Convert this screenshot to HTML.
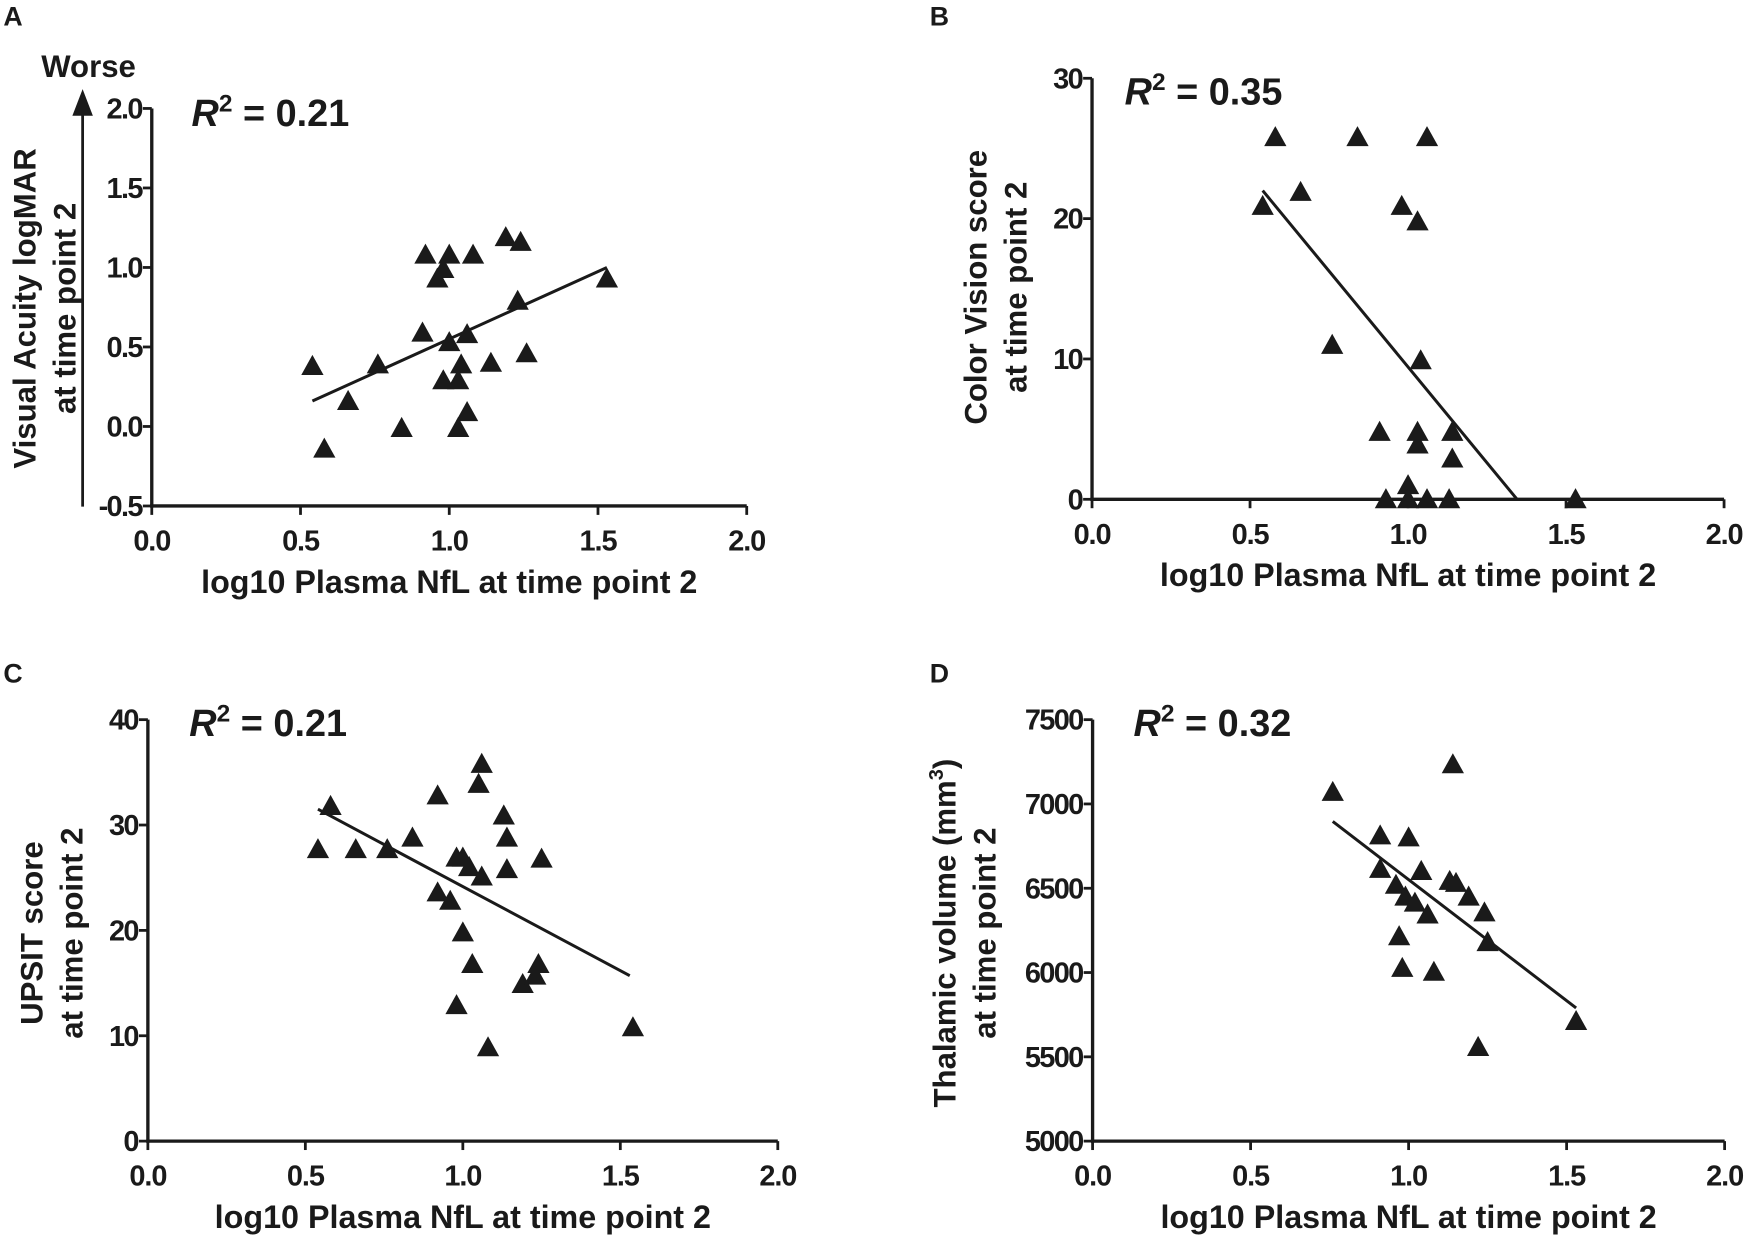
<!DOCTYPE html>
<html><head><meta charset="utf-8"><style>
html,body{margin:0;padding:0;background:#fff;}
svg{display:block;}
text{font-family:"Liberation Sans",Arial,sans-serif;font-weight:bold;fill:#1a1a1a;}
</style></head><body>
<svg id="fig" width="1746" height="1240" viewBox="0 0 1568 1113.6" preserveAspectRatio="none" xmlns="http://www.w3.org/2000/svg"></svg>
<script>
// Panel A data
const aX=[0.54,0.58,0.66,0.76,0.84,0.91,0.92,0.96,0.98,1.0,0.98,1.0,1.03,1.04,1.03,1.06,1.06,1.08,1.14,1.19,1.24,1.23,1.26,1.53];
const aY=[0.38,-0.14,0.16,0.39,-0.01,0.59,1.08,0.93,0.99,1.08,0.29,0.53,0.29,0.39,-0.01,0.09,0.58,1.08,0.40,1.19,1.16,0.79,0.46,0.93];
const aFit=[[0.54,0.16],[1.53,1.0]];
const aYTicks=[-0.5,0,0.5,1.0,1.5,2.0];
const aYLabels=["-0.5","0.0","0.5","1.0","1.5","2.0"];
// Panel B data
const bX=[0.54,0.58,0.66,0.76,0.84,0.91,0.93,0.98,1.0,1.0,1.03,1.04,1.03,1.03,1.06,1.06,1.14,1.14,1.13,1.53];
const bY=[20.9,25.8,21.9,11.0,25.8,4.8,0,20.9,1,0,19.8,9.9,4.8,3.9,0,25.8,4.8,2.9,0,0];
const bFit=[[0.54,22.0],[1.345,0]];
const bYTicks=[0,10,20,30];
const bYLabels=["0","10","20","30"];
// Panel C data
const cX=[0.54,0.58,0.66,0.76,0.84,0.92,0.92,0.96,0.98,1.0,1.0,0.98,1.03,1.02,1.05,1.06,1.06,1.08,1.13,1.14,1.14,1.19,1.23,1.24,1.25,1.54];
const cY=[27.7,31.8,27.7,27.7,28.8,32.8,23.6,22.8,26.9,26.9,19.8,12.9,16.8,26.0,33.9,25.1,35.8,8.9,30.9,28.8,25.8,14.9,15.7,16.8,26.8,10.8];
const cFit=[[0.54,31.5],[1.53,15.7]];
const cYTicks=[0,10,20,30,40];
const cYLabels=["0","10","20","30","40"];
// Panel D data
const dX=[0.76,0.91,1.0,0.91,0.96,0.99,1.02,1.04,1.06,0.97,0.98,1.08,1.13,1.14,1.15,1.19,1.24,1.25,1.22,1.53];
const dY=[7071,6813,6801,6614,6520,6450,6414,6602,6344,6215,6027,6004,6543,7235,6531,6450,6356,6180,5558,5712];
const dFit=[[0.76,6896],[1.53,5790]];
const dYTicks=[5000,5500,6000,6500,7000,7500];
const dYLabels=["5000","5500","6000","6500","7000","7500"];
// shared x axis
const xTicks=[0,0.5,1.0,1.5,2.0];
const xLabels=["0.0","0.5","1.0","1.5","2.0"];

const NS="http://www.w3.org/2000/svg";
const svg=document.getElementById('fig');
function el(tag,attrs,parent){const e=document.createElementNS(NS,tag);for(const k in attrs)e.setAttribute(k,attrs[k]);(parent||svg).appendChild(e);return e;}

function panel(p){
  const g=el('g',{});
  
  
  const sx=v=>p.x0+(v-0)/2.0*p.xw;
  const sy=v=>p.y0-(v-p.ymin)/(p.ymax-p.ymin)*p.yh;
  const ya=el('line',{x1:p.x0,y1:sy(p.ymax),x2:p.x0,y2:p.y0+1.5,stroke:'#1a1a1a','stroke-width':3},g);
  
  
  const xa=el('line',{x1:p.x0-1.5,y1:p.y0,x2:sx(2.0),y2:p.y0,stroke:'#1a1a1a','stroke-width':3},g);
  
  
  xTicks.forEach((t,i)=>{
    el('line',{x1:sx(t),y1:p.y0,x2:sx(t),y2:p.y0+8,stroke:'#1a1a1a','stroke-width':2.5},g);
    const tx=el('text',{x:sx(t),y:p.y0+40,'text-anchor':'middle','font-size':26,'letter-spacing':'-1'},g);
    tx.textContent=xLabels[i];
    
    
  });
  p.yTicks.forEach((t,i)=>{
    el('line',{x1:p.x0,y1:sy(t),x2:p.x0-8,y2:sy(t),stroke:'#1a1a1a','stroke-width':2.5},g);
    const tx=el('text',{x:p.x0-9,y:sy(t)+9,'text-anchor':'end','font-size':26,'letter-spacing':'-1.5'},g);
    tx.textContent=p.yLabels[i];
    
    
  });
  const fl=el('line',{x1:sx(p.fit[0][0]),y1:sy(p.fit[0][1]),x2:sx(p.fit[1][0]),y2:sy(p.fit[1][1]),stroke:'#1a1a1a','stroke-width':2.7},g);
  
  
  p.xs.forEach((xv,i)=>{
    const cx=sx(xv),cy=sy(p.ys[i]);
    const tri=el('polygon',{points:`${cx},${cy-10} ${cx-10},${cy+8} ${cx+10},${cy+8}`,fill:'#1a1a1a'},g);
    
    
  });
  const r=el('text',{x:p.rx,y:p.ry,'font-size':34},g);
  
  
  r.innerHTML='<tspan font-style="italic">R</tspan><tspan dy="-13" font-size="22">2</tspan><tspan dy="13"> = '+p.r2+'</tspan>';
  const xt=el('text',{x:sx(1.0),y:p.y0+78,'text-anchor':'middle','font-size':29},g);
  xt.textContent='log10 Plasma NfL at time point 2';
  
  
  const yt=el('text',{transform:`translate(${p.ytx},${p.ytc}) rotate(-90)`,'text-anchor':'middle','font-size':28},g);
  
  
  yt.innerHTML=`<tspan x="0" y="0">${p.yt1}</tspan><tspan x="0" y="36">at time point 2</tspan>`;
  const L=el('text',{x:p.lx,y:p.ly,'font-size':24},g);
  L.textContent=p.id;
  
  
}

panel({id:'A',x0:136.3,y0:454.4,xw:534.3,yh:357,ymin:-0.5,ymax:2.0,yTicks:aYTicks,yLabels:aYLabels,xs:aX,ys:aY,fit:aFit,r2:'0.21',rx:172,ry:113,ytx:32,ytc:277,yt1:'Visual Acuity logMAR',lx:3,ly:23});
panel({id:'B',x0:980.7,y0:448.4,xw:567.6,yh:378.1,ymin:0,ymax:30,yTicks:bYTicks,yLabels:bYLabels,xs:bX,ys:bY,fit:bFit,r2:'0.35',rx:1010,ry:94,ytx:886,ytc:258,yt1:'Color Vision score',lx:835,ly:23});
panel({id:'C',x0:132.8,y0:1024.8,xw:565.7,yh:378.5,ymin:0,ymax:40,yTicks:cYTicks,yLabels:cYLabels,xs:cX,ys:cY,fit:cFit,r2:'0.21',rx:170,ry:661,ytx:38,ytc:838,yt1:'UPSIT score',lx:3,ly:613});
panel({id:'D',x0:981.2,y0:1024.8,xw:567.6,yh:378.5,ymin:5000,ymax:7500,yTicks:dYTicks,yLabels:dYLabels,xs:dX,ys:dY,fit:dFit,r2:'0.32',rx:1018,ry:661,ytx:858,ytc:838,yt1:'Thalamic volume (mm<tspan dy="-11" font-size="18">3</tspan><tspan dy="11">)</tspan>',lx:835,ly:613});

const arr=el('line',{x1:74.2,y1:100,x2:74.2,y2:455,stroke:'#1a1a1a','stroke-width':2.5});


const head=el('polygon',{points:'74.2,80 65,104 83.4,104',fill:'#1a1a1a'});


const w=el('text',{x:37,y:69,'font-size':28});
w.textContent='Worse';


</script>
</body></html>
